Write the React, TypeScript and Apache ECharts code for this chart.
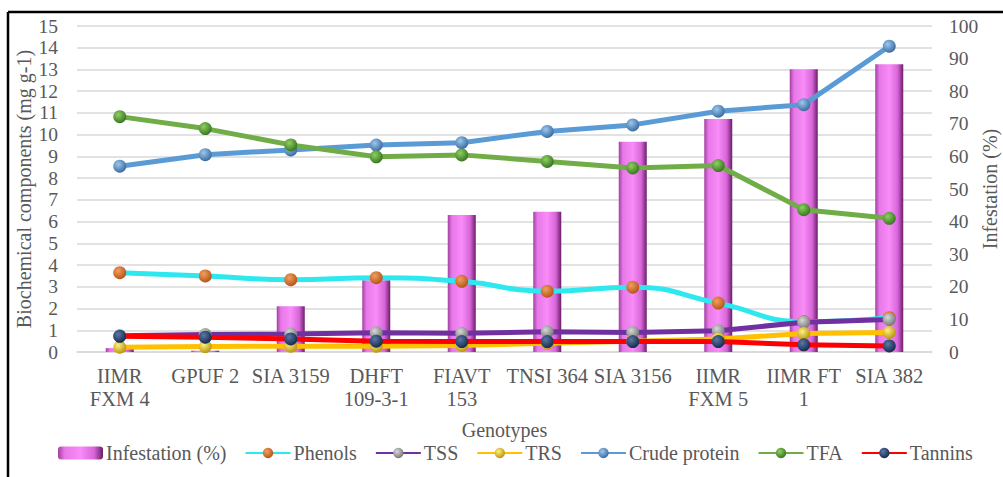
import React, { useEffect, useRef } from "react";
import * as echarts from "echarts";

const genotypes = [
  "IIMR\nFXM 4",
  "GPUF 2",
  "SIA 3159",
  "DHFT\n109-3-1",
  "FIAVT\n153",
  "TNSI 364",
  "SIA 3156",
  "IIMR\nFXM 5",
  "IIMR FT\n1",
  "SIA 382",
];
const infestation = [1.2, 0.4, 14, 22, 42, 43, 64.5, 71.5, 86.7, 88.3];
const phenols = [3.65, 3.5, 3.33, 3.42, 3.25, 2.8, 2.98, 2.25, 1.4, 1.58];
const tss = [0.75, 0.8, 0.83, 0.88, 0.86, 0.93, 0.9, 0.98, 1.37, 1.5];
const trs = [0.22, 0.25, 0.27, 0.27, 0.3, 0.4, 0.5, 0.6, 0.85, 0.9];
const crudeProtein = [8.55, 9.08, 9.3, 9.52, 9.63, 10.15, 10.45, 11.08, 11.38, 14.07];
const tfa = [10.83, 10.28, 9.53, 8.98, 9.07, 8.77, 8.47, 8.58, 6.55, 6.15];
const tannins = [0.72, 0.68, 0.6, 0.5, 0.48, 0.48, 0.48, 0.48, 0.33, 0.28];

const FONT = "Liberation Serif";
const TXT = "#595959";

const sphere = (light: string, dark: string) => ({
  type: "radial",
  x: 0.38,
  y: 0.35,
  r: 0.75,
  colorStops: [
    { offset: 0, color: light },
    { offset: 1, color: dark },
  ],
});

const lineSeries = (
  name: string,
  data: number[],
  lineColor: string,
  light: string,
  dark: string,
  smooth = false
) => ({
  name,
  type: "line",
  yAxisIndex: 0,
  data,
  smooth,
  symbol: "circle",
  symbolSize: 13,
  lineStyle: { color: lineColor, width: 5 },
  itemStyle: { color: sphere(light, dark), borderWidth: 0 },
});

export default function App() {
  const ref = useRef<HTMLDivElement>(null);
  useEffect(() => {
    if (!ref.current) return;
    const chart = echarts.init(ref.current, null, { renderer: "svg" });
    chart.setOption({
      animation: false,
      backgroundColor: "#ffffff",
      textStyle: { fontFamily: FONT },
      grid: { left: 77, right: 71, top: 26, bottom: 125, containLabel: false, outerBoundsMode: "none" },
      graphic: [
        { type: "line", shape: { x1: 8, y1: 12, x2: 1003, y2: 12 }, style: { stroke: "#000", lineWidth: 2.5 } },
        { type: "line", shape: { x1: 8, y1: 12, x2: 8, y2: 477 }, style: { stroke: "#000", lineWidth: 2.5 } },
      ],
      legend: {
        left: 53,
        top: 438,
        itemWidth: 45,
        itemHeight: 13,
        itemGap: 18,
        textStyle: { fontFamily: FONT, fontSize: 20, color: TXT, padding: [0, 0, 0, -2] },
        data: ["Infestation (%)", "Phenols", "TSS", "TRS", "Crude protein", "TFA", "Tannins"],
      },
      xAxis: {
        type: "category",
        data: genotypes,
        name: "Genotypes",
        nameLocation: "middle",
        nameGap: 68,
        nameTextStyle: { fontFamily: FONT, fontSize: 20, color: TXT },
        axisLine: { show: true, lineStyle: { color: "#d9d9d9", width: 1.5 } },
        axisTick: { show: false },
        axisLabel: { fontFamily: FONT, fontSize: 20.5, color: TXT, margin: 12, lineHeight: 23, interval: 0 },
      },
      yAxis: [
        {
          type: "value",
          min: 0,
          max: 15,
          interval: 1,
          name: "Biochemical components (mg g-1)",
          nameLocation: "middle",
          nameGap: 43,
          nameMoveOverlap: false,
          nameRotate: 90,
          nameTextStyle: { fontFamily: FONT, fontSize: 20, color: TXT },
          axisLine: { show: false },
          axisTick: { show: false },
          axisLabel: { fontFamily: FONT, fontSize: 19.5, color: TXT, margin: 19 },
          splitLine: { show: true, lineStyle: { color: "#d9d9d9", width: 1.5 } },
        },
        {
          type: "value",
          min: 0,
          max: 100,
          interval: 10,
          position: "right",
          name: "Infestation (%)",
          nameLocation: "middle",
          nameGap: 48,
          nameMoveOverlap: false,
          nameRotate: 90,
          nameTextStyle: { fontFamily: FONT, fontSize: 20, color: TXT },
          axisLine: { show: false },
          axisTick: { show: false },
          axisLabel: { fontFamily: FONT, fontSize: 19.5, color: TXT, margin: 17 },
          splitLine: { show: false },
        },
      ],
      series: [
        {
          name: "Infestation (%)",
          type: "bar",
          yAxisIndex: 1,
          data: infestation,
          barWidth: 28,
          itemStyle: {
            color: {
              type: "linear",
              x: 0,
              y: 0,
              x2: 1,
              y2: 0,
              colorStops: [
                { offset: 0, color: "#a040a0" },
                { offset: 0.15, color: "#e878e8" },
                { offset: 0.5, color: "#f88cf8" },
                { offset: 0.8, color: "#d865d8" },
                { offset: 1, color: "#6a1e6a" },
              ],
            },
          },
        },
        lineSeries("Phenols", phenols, "#2ee8f0", "#f0a060", "#b04a10", true),
        lineSeries("TSS", tss, "#7030a0", "#d8d8d8", "#6a6a6a"),
        lineSeries("TRS", trs, "#ffc000", "#fff080", "#b08a00"),
        lineSeries("Crude protein", crudeProtein, "#5b9bd5", "#9cc8ee", "#2f5f96"),
        lineSeries("TFA", tfa, "#70ad47", "#8fd060", "#2e6a1a"),
        lineSeries("Tannins", tannins, "#ff0000", "#5a78a8", "#0f2040"),
      ],
    });
    return () => chart.dispose();
  }, []);
  return (
    <div
      ref={ref}
      style={{ position: "fixed", left: 0, top: 0, width: 1003, height: 477, background: "#fff" }}
    />
  );
}
